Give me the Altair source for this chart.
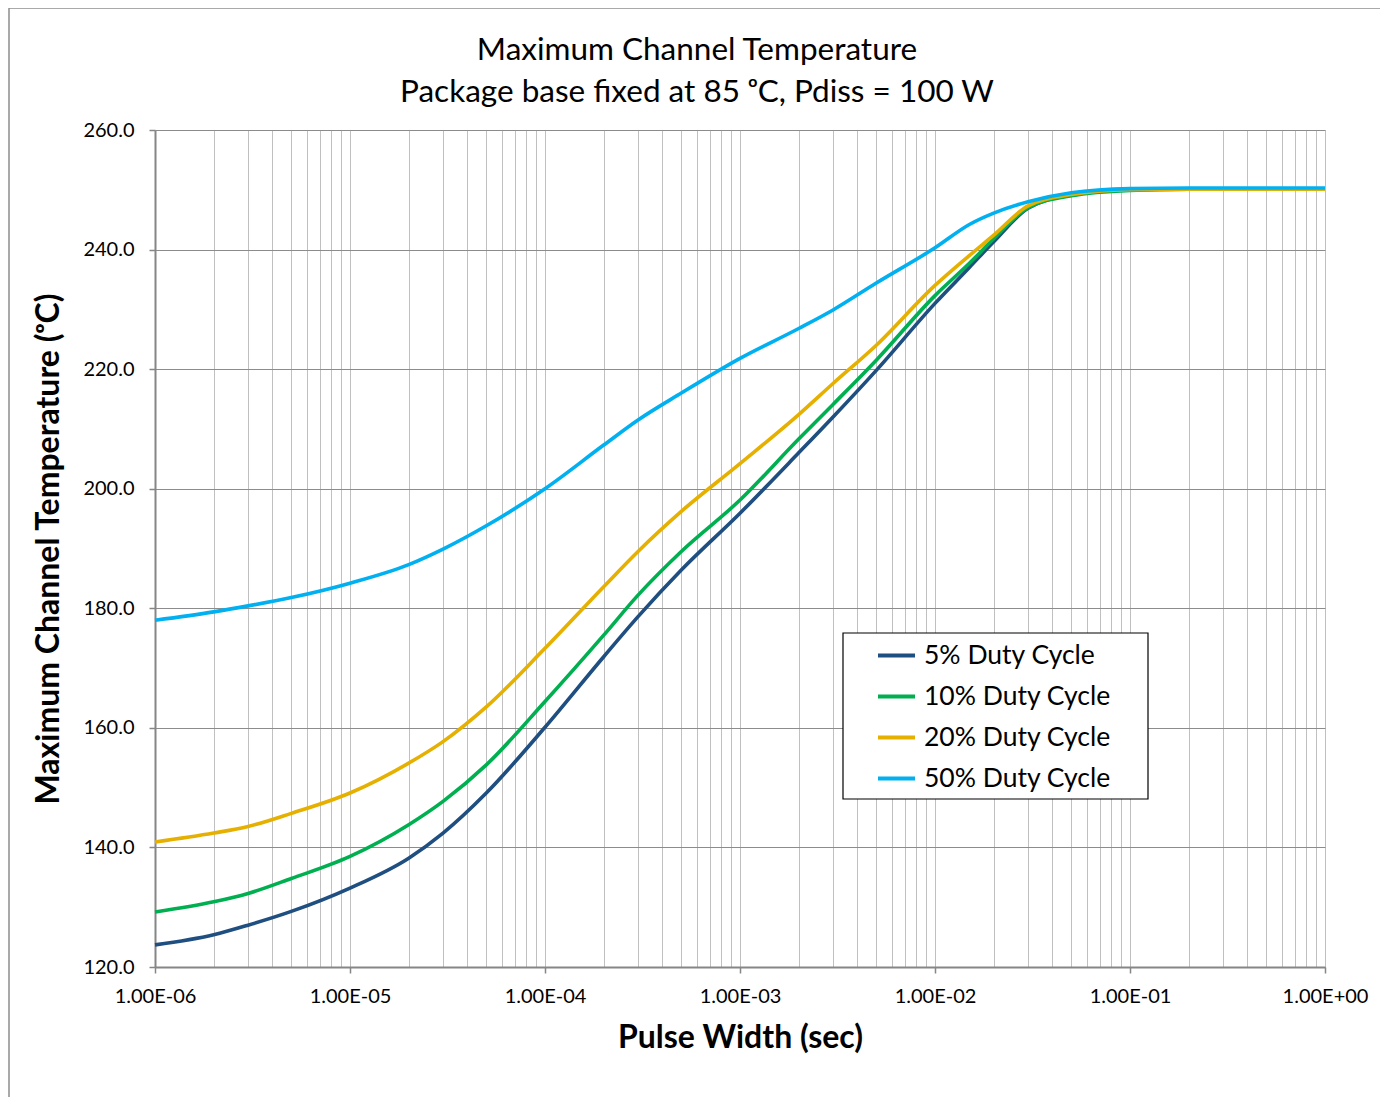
import altair as alt
import pandas as pd

# ---- data ----
pulse_width = [1e-6, 2e-6, 3e-6, 5e-6, 1e-5, 2e-5, 3e-5, 5e-5, 1e-4, 2e-4, 3e-4, 5e-4,
               1e-3, 2e-3, 3e-3, 5e-3, 1e-2, 1.5e-2, 2e-2, 3e-2, 5e-2, 1e-1, 2e-1, 5e-1, 1.0]
temp_5 = [123.7, 125.4, 127.0, 129.3, 133.2, 138.2, 142.4, 149.1, 160.1, 171.9, 178.6, 186.4,
          195.9, 206.0, 212.0, 219.8, 231.0, 237.0, 241.3, 246.9, 249.1, 250.0, 250.1, 250.1, 250.1]
temp_10 = [129.2, 130.9, 132.3, 134.8, 138.5, 143.8, 147.7, 153.8, 164.4, 175.5, 182.2, 189.5,
           198.1, 208.3, 214.1, 221.5, 232.3, 237.7, 241.8, 247.0, 249.0, 249.9, 250.1, 250.1, 250.1]
temp_20 = [140.9, 142.4, 143.5, 145.7, 149.1, 154.1, 157.7, 163.5, 173.3, 183.6, 189.5, 196.2,
           204.2, 212.4, 217.6, 224.0, 234.0, 239.0, 242.4, 247.3, 249.2, 250.0, 250.1, 250.1, 250.1]
temp_50 = [178.0, 179.4, 180.4, 181.8, 184.2, 187.3, 189.9, 193.8, 200.0, 207.3, 211.5, 216.0,
           221.8, 226.8, 229.9, 234.4, 240.3, 244.2, 246.1, 248.0, 249.5, 250.2, 250.3, 250.3, 250.3]

series_names = ["5% Duty Cycle", "10% Duty Cycle", "20% Duty Cycle", "50% Duty Cycle"]
series_colors = ["#1F4E80", "#00B050", "#E6B000", "#00B0F0"]
y_ticks = [120, 140, 160, 180, 200, 220, 240, 260]
x_grid = [m * 10.0 ** e for e in range(-6, 0) for m in range(1, 10)] + [1.0]

rows = []
for name, temps in zip(series_names, [temp_5, temp_10, temp_20, temp_50]):
    for i, (x, t) in enumerate(zip(pulse_width, temps)):
        rows.append({"pw": x, "temp": t, "series": name, "order": i})
df = pd.DataFrame(rows)

FONT = "Lato"
W, H = 1170, 837

decade_test = "abs(log(datum.value)/LN10 - round(log(datum.value)/LN10)) < 0.001"
x_label = ("abs(log(datum.value)/LN10 - round(log(datum.value)/LN10)) < 0.001 ? "
           "'1.00E' + (round(log(datum.value)/LN10) < 0 ? '-' : '+') + "
           "(abs(round(log(datum.value)/LN10)) < 10 ? '0' : '') + "
           "abs(round(log(datum.value)/LN10)) : ''")

lines = alt.Chart(df).mark_line(strokeWidth=3.6, interpolate="monotone").encode(
    x=alt.X("pw:Q",
            scale=alt.Scale(type="log", domain=[1e-6, 1.0], nice=False),
            axis=alt.Axis(values=x_grid, labelExpr=x_label, title="Pulse Width (sec)",
                          grid=True, gridColor="#c0c0c0", gridWidth=1,
                          domainColor="#868686", domainWidth=2,
                          tickColor={"condition": {"test": decade_test, "value": "#868686"},
                                     "value": "transparent"},
                          tickSize=6, tickWidth=1.5,
                          labelFont=FONT, labelFontSize=20, labelColor="#000000",
                          labelPadding=13, labelOverlap=False, labelFlush=False, labelBound=False,
                          titleFont=FONT, titleFontSize=32, titleFontWeight="bold",
                          titleColor="#000000", titleX=W / 2, titleY=70,
                          titleBaseline="middle", titleAlign="center")),
    y=alt.Y("temp:Q",
            scale=alt.Scale(domain=[120, 260], nice=False, zero=False),
            axis=alt.Axis(values=y_ticks, format=".1f", title="Maximum Channel Temperature (ᵒC)",
                          grid=True, gridColor="#8c8c8c", gridWidth=1.2,
                          domainColor="#868686", domainWidth=2,
                          tickColor="#868686", tickSize=6, tickWidth=1.5,
                          labelFont=FONT, labelFontSize=20, labelColor="#000000",
                          labelPadding=15, labelFlush=False,
                          titleFont=FONT, titleFontSize=32, titleFontWeight="bold",
                          titleColor="#000000", titleX=-107, titleY=H / 2,
                          titleBaseline="middle", titleAlign="center", titleAngle=270)),
    color=alt.Color("series:N",
                    scale=alt.Scale(domain=series_names, range=series_colors),
                    sort=series_names,
                    legend=alt.Legend(title=None, orient="none", legendX=688, legendY=501,
                                      padding=4, symbolType="stroke", symbolSize=1369,
                                      symbolStrokeWidth=4, symbolOffset=29, labelOffset=7,
                                      rowPadding=7, labelFont=FONT, labelFontSize=26.5,
                                      labelColor="#000000", labelLimit=400)),
    order="order:Q",
)

# legend frame (white box with black outline behind the legend entries)
legend_frame = alt.Chart(alt.Data(values=[{"k": 0}])).mark_rect(
    fill="#ffffff", stroke="#000000", strokeWidth=1.2).encode(
    x=alt.value(688), x2=alt.value(993), y=alt.value(503), y2=alt.value(669))

border_src = alt.Data(values=[{"k": 0}])
border_left = alt.Chart(border_src).mark_rule(color="#8c8c8c", strokeWidth=1.5).encode(
    x=alt.value(-146), y=alt.value(-122), y2=alt.value(H + 135))
border_top = alt.Chart(border_src).mark_rule(color="#8c8c8c", strokeWidth=1.5).encode(
    x=alt.value(-146), x2=alt.value(W + 60), y=alt.value(-122))

chart = alt.layer(legend_frame, lines, border_left, border_top).properties(
    width=W, height=H,
    title=alt.Title(["Maximum Channel Temperature", "Package base fixed at 85 ᵒC, Pdiss = 100 W"],
                    font=FONT, fontSize=31.5, fontWeight="normal", color="#000000",
                    lineHeight=42, anchor="middle", dx=-43, offset=20, dy=121),
    autosize=alt.AutoSizeParams(type="none"),
    padding={"left": 147, "top": 122, "right": 55, "bottom": 130},
).configure_view(stroke="transparent").configure(background="#ffffff")

chart.save("out.html", embed_options={"renderer": "svg", "actions": False})
